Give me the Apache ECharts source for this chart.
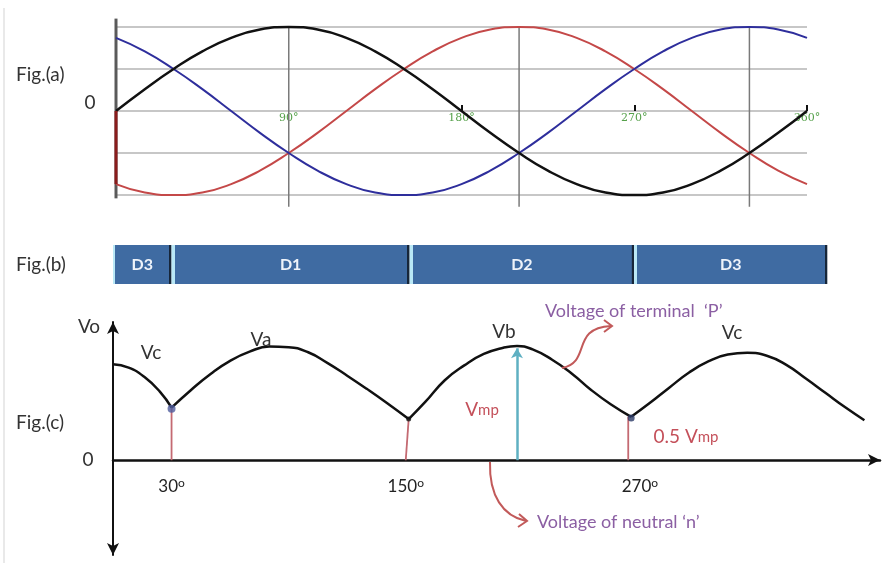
<!DOCTYPE html>
<html>
<head>
<meta charset="utf-8">
<style>html,body{margin:0;padding:0;background:#fff;}#c{width:883px;height:563px;}</style>
<script src="https://cdn.jsdelivr.net/npm/echarts@6/dist/echarts.min.js"></script>
</head>
<body>
<div id="c"></div>
<script>
// ---------- Fig.(a): three phase voltages (read every 15 degrees) ----------
const ANGLES = [0,15,30,45,60,75,90,105,120,135,150,165,180,195,210,225,240,255,270,285,300,315,330,345,360];
const PHASE_A = [0,0.26,0.5,0.71,0.87,0.97,1,0.97,0.87,0.71,0.5,0.26,0,-0.26,-0.5,-0.71,-0.87,-0.97,-1,-0.97,-0.87,-0.71,-0.5,-0.26,0];
const PHASE_B = [-0.87,-0.97,-1,-0.97,-0.87,-0.71,-0.5,-0.26,0,0.26,0.5,0.71,0.87,0.97,1,0.97,0.87,0.71,0.5,0.26,0,-0.26,-0.5,-0.71,-0.87];
const PHASE_C = [0.87,0.71,0.5,0.26,0,-0.26,-0.5,-0.71,-0.87,-0.97,-1,-0.97,-0.87,-0.71,-0.5,-0.26,0,0.26,0.5,0.71,0.87,0.97,1,0.97,0.87];
const A_TICKS = [180,270,360];
const A_LABELS = [90,180,270,360];
const A_VGRID = [90,210,330];

// ---------- Fig.(b): conducting diodes ----------
const DIODES = ['D3','D1','D2','D3'];
const DIODE_SPANS = [30,122,115,99];

// ---------- Fig.(c): output voltage (angle, value in Vmp) ----------
const VC_START = [[0,0.84],[8,0.81],[16,0.73],[24,0.60],[30,0.46]];
const VA_SEG = [[30,0.46],[40,0.615],[50,0.755],[60,0.87],[70,0.95],[80,0.995],[90,0.99],[100,0.945],[110,0.85],[120,0.74],[130,0.625],[140,0.505],[151.5,0.36]];
const VB_SEG = [[151.5,0.36],[160,0.51],[170,0.70],[180,0.83],[190,0.93],[200,0.985],[207,1.00],[215,0.97],[225,0.88],[235,0.76],[245,0.615],[255,0.49],[265.5,0.38]];
const VC_SEG = [[265.5,0.38],[275,0.50],[285,0.635],[295,0.765],[305,0.865],[315,0.925],[325,0.94],[335,0.915],[345,0.835],[355,0.715],[365,0.59],[375,0.465],[385,0.35]];
const C_TICKS = [30,150,270];
const C_DOTS = [[30,0.45],[151.5,0.36],[265.5,0.37]];
const C_DROPS = [[[30,0],[30,0.46]],[[150,0],[151.5,0.36]],[[264,0],[264,0.38]]];
const VMP_AT = [207,0.98];

const FONT = 'Lato, "Open Sans", sans-serif';
const chart = echarts.init(document.getElementById('c'));

const zip = (xs, ys) => xs.map((x, i) => [x, ys[i]]);
const seg = (data, color, width, idx, extra) => Object.assign({
  type: 'line', data, xAxisIndex: idx, yAxisIndex: idx, symbol: 'none', clip: false,
  silent: true, lineStyle: { color, width }, z: 2
}, extra || {});
const SMOOTH = { smooth: 0.5, z: 4 };

const series = [];
// fig a helpers
series.push(seg([[0,1.1],[0,-1.04]], '#5a5a5a', 3, 0));
A_VGRID.forEach(a => series.push(seg([[a,1],[a,-1.14]], '#7a7a7a', 1.5, 0)));
series.push(seg(zip(ANGLES, PHASE_B), '#c44848', 2, 0, { smooth: true, z: 3 }));
series.push(seg(zip(ANGLES, PHASE_C), '#2e2e9c', 2, 0, { smooth: true, z: 3 }));
series.push(seg(zip(ANGLES, PHASE_A), '#111', 2.5, 0, { smooth: true, z: 4 }));
series.push(seg([[0,0],[0,-0.87]], '#8a1c1c', 3, 0, { z: 5 }));

// fig b stacked bar
const pxPerUnit = 767 / 393;
DIODES.forEach((d, i) => {
  const w = DIODE_SPANS[i] * pxPerUnit;
  const l = (i === 0 ? 1.5 : 3) / w, r = 2.5 / w;
  series.push({
    type: 'bar', name: d, stack: 'diodes', xAxisIndex: 1, yAxisIndex: 1,
    data: [DIODE_SPANS[i]], barWidth: 39, silent: true,
    itemStyle: {
      color: new echarts.graphic.LinearGradient(0, 0, 1, 0, [
        { offset: 0, color: '#b9e8f6' }, { offset: l, color: '#b9e8f6' },
        { offset: l + 0.0005, color: '#3f6ba2' }, { offset: 1 - r - 0.0005, color: '#3f6ba2' },
        { offset: 1 - r, color: '#172639' }, { offset: 1, color: '#172639' }
      ])
    },
    label: { show: true, position: 'inside', formatter: '{a}', color: '#eef3fa',
      fontWeight: 'bold', fontSize: 16, fontFamily: FONT }
  });
});

// fig c
C_DROPS.forEach(p => series.push(seg(p, '#c46a72', 1.8, 2)));
series.push(seg(VC_START, '#111', 2.5, 2, SMOOTH));
series.push(seg(VA_SEG, '#111', 2.5, 2, SMOOTH));
series.push(seg(VB_SEG, '#111', 2.5, 2, Object.assign({}, SMOOTH, {
  markLine: { silent: true, symbol: ['none', 'arrow'], symbolSize: [9, 10], label: { show: false },
    lineStyle: { color: '#5fb0c2', width: 2.5, type: 'solid' },
    data: [[{ coord: [VMP_AT[0], 0] }, { coord: [VMP_AT[0], VMP_AT[1]] }]] } })));
series.push(seg(VC_SEG, '#111', 2.5, 2, SMOOTH));
series.push({ type: 'scatter', xAxisIndex: 2, yAxisIndex: 2, silent: true, z: 6,
  data: C_DOTS, symbolSize: (v, p) => [8, 5, 7][p.dataIndex],
  itemStyle: { color: (p) => ['#4f5d9e', '#111', '#2b3a66'][p.dataIndex] } });

const txt = (text, x, y, opt) => ({ type: 'text', x, y, silent: true, z: 10,
  style: Object.assign({ text, font: '19px ' + FONT, fill: '#333', align: 'center', verticalAlign: 'middle',
    textAlign: 'center', textVerticalAlign: 'middle' }, opt || {}) });
const RED = '#c4505a', PURPLE = '#8b5fa3';
const richV = { a: { fontSize: 19, fontFamily: FONT, fill: RED, color: RED }, b: { fontSize: 15, fontFamily: FONT, fill: RED, color: RED } };

chart.setOption({
  animation: false,
  grid: [
    { left: 116, top: 27, width: 691, height: 168, outerBoundsMode: 'none' },
    { left: 113, top: 245, width: 767, height: 39, outerBoundsMode: 'none' },
    { left: 113, top: 322, width: 767, height: 233, outerBoundsMode: 'none' }
  ],
  xAxis: [
    { type: 'value', gridIndex: 0, min: 0, max: 360, splitLine: { show: false },
      position: 'bottom', offset: -84,
      axisLine: { show: false, onZero: false },
      axisTick: { show: true, inside: true, length: 6, customValues: A_TICKS, lineStyle: { color: '#111', width: 2 } },
      axisLabel: { show: true, customValues: A_LABELS, margin: 2, fontSize: 11, color: '#55a04a',
        fontFamily: 'DejaVu Serif', formatter: v => v + '°' } },
    { type: 'value', gridIndex: 1, min: 0, max: 393, show: false },
    { type: 'value', gridIndex: 2, min: 0, max: 393, splitLine: { show: false },
      position: 'bottom', offset: -95,
      axisLine: { show: true, onZero: false, symbol: ['none', 'arrow'], symbolSize: [9, 12],
        lineStyle: { color: '#111', width: 2.5 } },
      axisTick: { show: false },
      axisLabel: { show: true, customValues: C_TICKS, margin: 17,
        formatter: v => '{n|' + v + '}{s|o}',
        rich: { n: { fontSize: 17, fontFamily: FONT, color: '#222', lineHeight: 20 },
                s: { fontSize: 12, fontFamily: FONT, color: '#222', lineHeight: 20, verticalAlign: 'top' } } } }
  ],
  yAxis: [
    { type: 'value', gridIndex: 0, min: -1, max: 1, interval: 0.5,
      axisLine: { show: false }, axisTick: { show: false }, axisLabel: { show: false },
      splitLine: { show: true, lineStyle: { color: '#b4b4b4', width: 1.5 } } },
    { type: 'category', gridIndex: 1, data: ['b'], show: false },
    { type: 'value', gridIndex: 2, min: -0.83, max: 1.21,
      axisLine: { show: true, onZero: false, symbol: ['arrow', 'arrow'], symbolSize: [9, 12], lineStyle: { color: '#111', width: 2 } },
      axisTick: { show: false }, axisLabel: { show: false }, splitLine: { show: false } }
  ],
  series,
  graphic: { elements: [
    { type: 'line', shape: { x1: 4, y1: 8, x2: 4, y2: 563 }, style: { stroke: '#e2e2e2', lineWidth: 1.5 }, silent: true },
    txt('Fig.(a)', 16, 75, { align: 'left', textAlign: 'left' }),
    txt('0', 90, 103),
    txt('Fig.(b)', 16, 265, { align: 'left', textAlign: 'left' }),
    txt('Fig.(c)', 16, 423, { align: 'left', textAlign: 'left' }),
    txt('0', 88, 460),
    txt('Vo', 89, 327),
    txt('Vc', 151, 353),
    txt('Va', 261, 340),
    txt('Vb', 504, 332),
    txt('Vc', 732, 333),
    txt('{a|V}{b|mp}', 482, 410, { rich: richV }),
    txt('{a|0.5 V}{b|mp}', 686, 437, { rich: richV }),
    txt('Voltage of terminal  \u2018P\u2019', 545, 311, { align: 'left', textAlign: 'left', font: '18px ' + FONT, fill: PURPLE }),
    txt('Voltage of neutral \u2018n\u2019', 537, 522, { align: 'left', textAlign: 'left', font: '18px ' + FONT, fill: PURPLE }),
    { type: 'bezierCurve', silent: true, z: 10,
      shape: { x1: 562, y1: 368, cpx1: 592, cpy1: 362, cpx2: 570, cpy2: 328, x2: 611, y2: 326 },
      style: { stroke: '#c25a5a', lineWidth: 2, fill: null } },
    { type: 'polyline', silent: true, z: 10, shape: { points: [[604, 320], [612, 326], [604, 332]] },
      style: { stroke: '#c25a5a', lineWidth: 2, fill: null } },
    { type: 'bezierCurve', silent: true, z: 10,
      shape: { x1: 490, y1: 462, cpx1: 489, cpy1: 496, cpx2: 503, cpy2: 516, x2: 526, y2: 521 },
      style: { stroke: '#c25a5a', lineWidth: 2, fill: null } },
    { type: 'polyline', silent: true, z: 10, shape: { points: [[519, 514], [527, 521], [518, 527]] },
      style: { stroke: '#c25a5a', lineWidth: 2, fill: null } }
  ] }
});
</script>
</body>
</html>
